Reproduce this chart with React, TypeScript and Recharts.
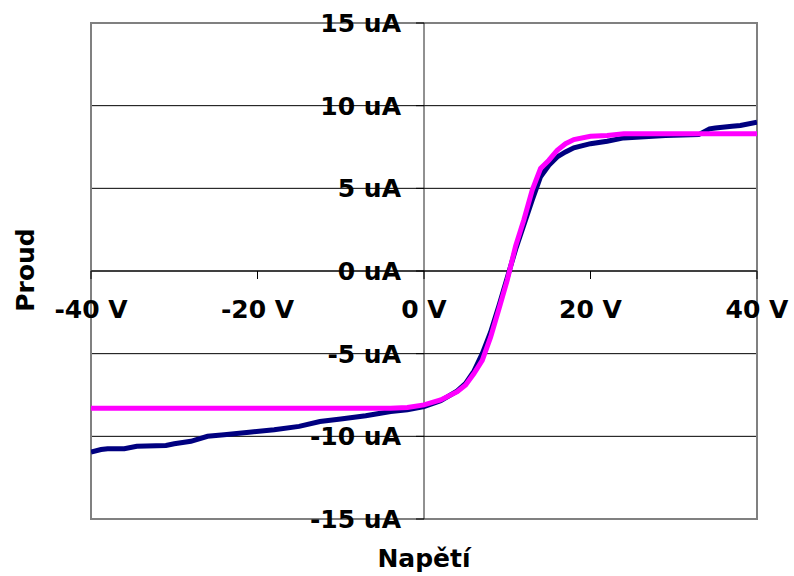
import { LineChart, Line, XAxis, YAxis, CartesianGrid, ReferenceLine, ReferenceArea } from "recharts";

// measured I-V curve (V, uA)
const measuredV = [-40, -38.8, -38, -36, -34.5, -31, -30, -28, -26, -24, -21, -18, -15, -12.5, -10, -7, -4, -2, 0, 2, 4, 5, 6, 7, 8, 9, 10, 11, 12, 13, 14, 15, 16, 17, 18, 20, 22, 24, 26, 29, 33, 34.3, 35, 37, 38, 40];
const measuredI = [-10.95, -10.8, -10.75, -10.75, -10.6, -10.55, -10.45, -10.3, -10.0, -9.9, -9.75, -9.6, -9.4, -9.1, -8.95, -8.75, -8.5, -8.4, -8.2, -7.85, -7.25, -6.8, -6.05, -5.0, -3.7, -2.1, -0.4, 1.3, 2.8, 4.3, 5.7, 6.4, 6.9, 7.2, 7.45, 7.7, 7.85, 8.05, 8.1, 8.2, 8.25, 8.6, 8.65, 8.75, 8.8, 9.0];

// fitted curve
const fitV = [-40, -4, -2, 0, 2, 4, 5, 6, 7, 8, 9, 10, 11, 12, 13, 14, 15, 16, 17, 18, 20, 22, 24, 40];
const fitI = [-8.3, -8.3, -8.25, -8.1, -7.8, -7.3, -6.9, -6.2, -5.4, -4.0, -2.3, -0.55, 1.5, 3.1, 4.9, 6.2, 6.7, 7.3, 7.7, 7.95, 8.15, 8.2, 8.3, 8.3];

const xTicks = [-40, -20, 0, 20, 40];
const yTicks = [-15, -10, -5, 0, 5, 10, 15];

const measured = measuredV.map((v, i) => ({ v, i: measuredI[i] }));
const fit = fitV.map((v, i) => ({ v, i: fitI[i] }));

// plot area in page pixels
const left = 91;
const top = 23;
const plotW = 666;
const plotH = 496;
const zeroX = left + plotW / 2;
const zeroY = top + plotH / 2;

const font = "'DejaVu Sans', Verdana, sans-serif";

const renderYTick = (props: any) => {
  const { y, payload } = props;
  return (
    <g key={`y-${payload.value}`}>
      <line x1={zeroX - 8} x2={zeroX} y1={y} y2={y} stroke="#000" />
      <text x={zeroX - 23} y={y} dy={9} textAnchor="end" fontSize={25} fontWeight="bold" fontFamily={font} fill="#000">
        {`${payload.value} uA`}
      </text>
    </g>
  );
};

const renderXTick = (props: any) => {
  const { x, payload } = props;
  return (
    <g key={`x-${payload.value}`}>
      <line x1={x} x2={x} y1={zeroY} y2={zeroY + 8} stroke="#000" />
      <text x={x} y={zeroY + 47} textAnchor="middle" fontSize={25} fontWeight="bold" fontFamily={font} fill="#000">
        {`${payload.value} V`}
      </text>
    </g>
  );
};

export default function App() {
  return (
    <div style={{ position: "absolute", left: 0, top: 0, width: 794, height: 576, background: "#fff" }}>
      <LineChart
        width={794}
        height={576}
        margin={{ top: top, right: 794 - left - plotW, bottom: 576 - top - plotH - 10, left: left - 10 }}
      >
        <CartesianGrid vertical={false} stroke="#000" strokeWidth={1} />
        <XAxis
          type="number"
          dataKey="v"
          domain={[-40, 40]}
          ticks={xTicks}
          axisLine={false}
          tickLine={false}
          height={10}
          tick={renderXTick}
          interval={0}
          allowDataOverflow
        />
        <YAxis
          type="number"
          dataKey="i"
          domain={[-15, 15]}
          ticks={yTicks}
          axisLine={false}
          tickLine={false}
          width={10}
          tick={renderYTick}
          interval={0}
          allowDataOverflow
        />
        <ReferenceArea x1={-40} x2={40} y1={-15} y2={15} fill="none" stroke="#808080" strokeWidth={2} />
        <ReferenceLine x={0} stroke="#222" />
        <ReferenceLine y={0} stroke="#000" />
        <Line data={measured} dataKey="i" stroke="#000080" strokeWidth={5} dot={false} isAnimationActive={false} />
        <Line data={fit} dataKey="i" stroke="#FF00FF" strokeWidth={5} dot={false} isAnimationActive={false} />
      </LineChart>
      <div
        style={{
          position: "absolute",
          left: 0,
          width: 2 * zeroX,
          top: 544,
          textAlign: "center",
          fontFamily: font,
          fontWeight: "bold",
          fontSize: 25,
        }}
      >
        Napětí
      </div>
      <div
        style={{
          position: "absolute",
          left: 25,
          top: 270,
          transform: "translate(-50%, -50%) rotate(-90deg)",
          fontFamily: font,
          fontWeight: "bold",
          fontSize: 25,
        }}
      >
        Proud
      </div>
    </div>
  );
}
